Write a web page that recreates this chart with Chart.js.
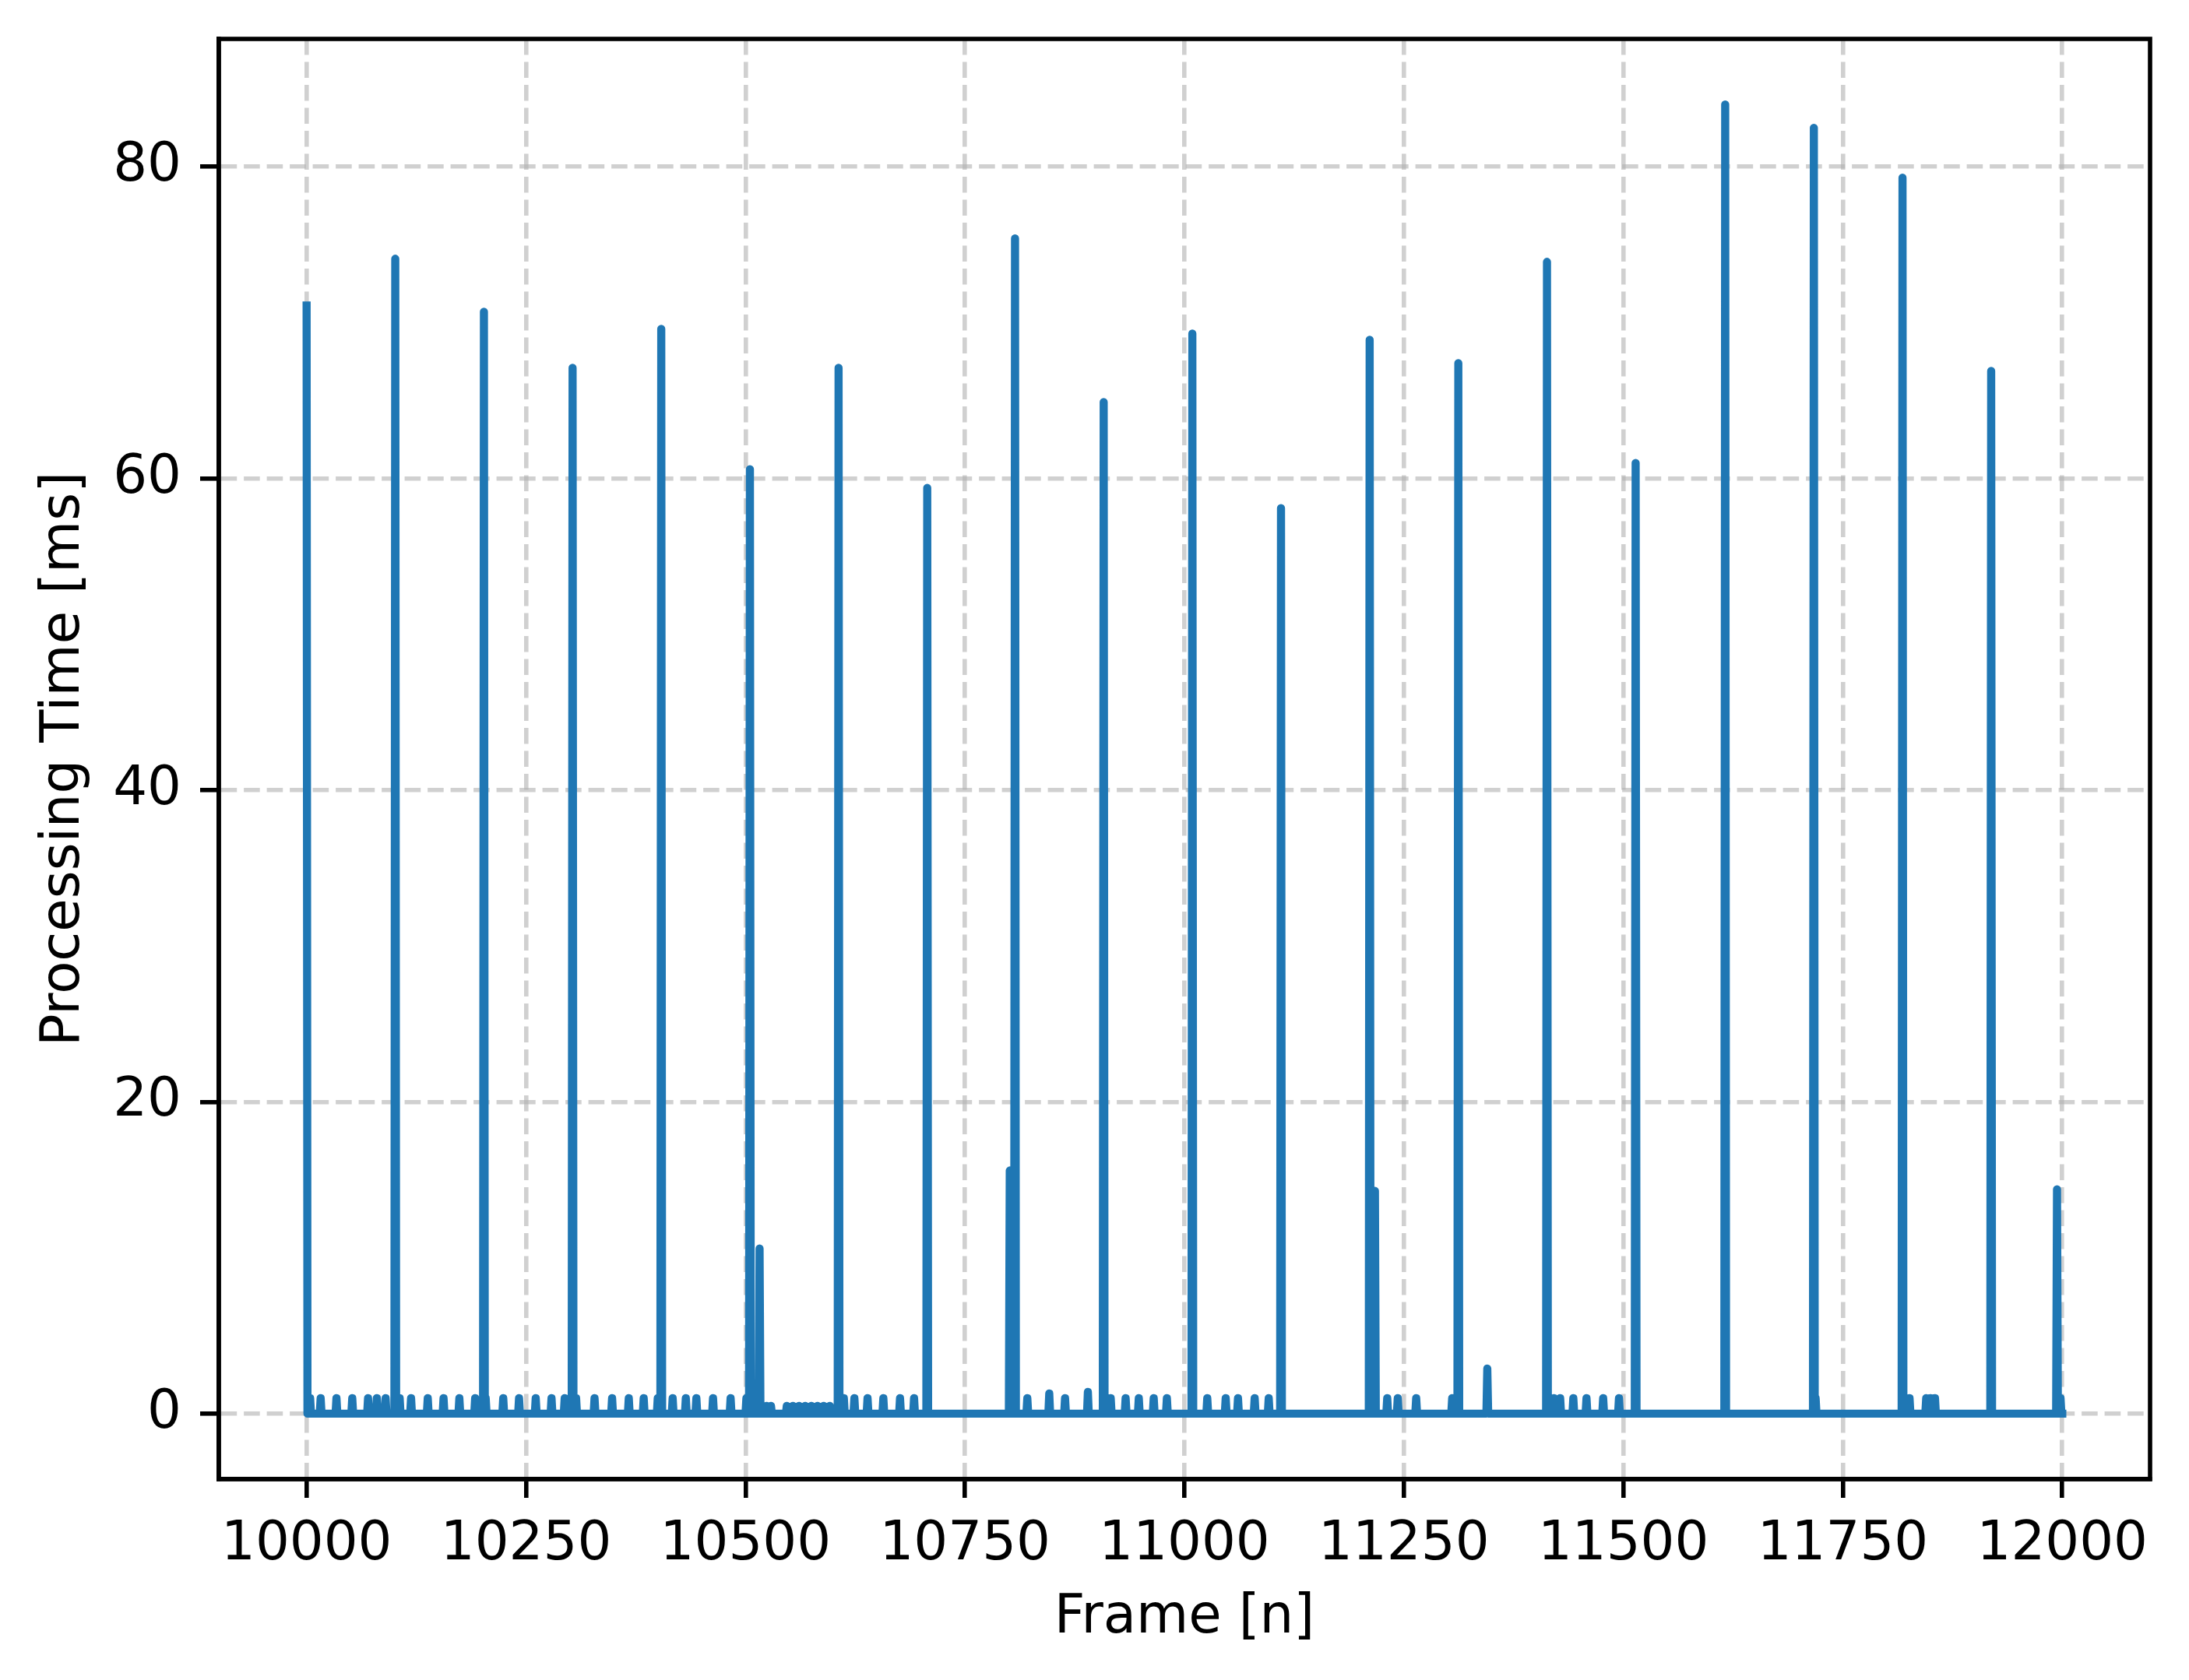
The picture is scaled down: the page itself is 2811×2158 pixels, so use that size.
<!DOCTYPE html>
<html>
<head>
<meta charset="utf-8">
<title>Processing time per frame</title>
<script src="https://cdn.jsdelivr.net/npm/chart.js@4.4.0/dist/chart.umd.min.js"></script>
<style>
    html, body { margin: 0; padding: 0; background: #ffffff; }
    #canvas-frame-time { display: block; }
</style>
</head>
<body>
<canvas id="canvas-frame-time" width="2811" height="2158"></canvas>
<script>
// Data
const frameStart = 10000;
const frameEnd = 12000;

// big spikes (frame, ms)
const peakFrames = [10000, 10101, 10202, 10303, 10404, 10505, 10516, 10606, 10707, 10801,
    10807, 10908, 11009, 11110, 11211, 11217, 11312, 11345, 11413, 11514,
    11616, 11717, 11818, 11919, 11994];
const peakMs = [71.1, 74.1, 70.7, 67.1, 69.6, 60.6, 10.6, 67.1, 59.4, 15.6,
    75.4, 64.9, 69.3, 58.1, 68.9, 14.3, 67.4, 2.9, 73.9, 61.0,
    84.0, 82.5, 79.3, 66.9, 14.4];

// small bumps near the baseline (frame, ms)
const bumpFrames = [10004, 10016, 10034, 10052, 10070, 10080, 10090, 10106, 10119, 10138,
    10156, 10174, 10192, 10204, 10224, 10242, 10261, 10279, 10294, 10307,
    10328, 10348, 10367, 10384, 10400, 10417, 10432, 10444, 10463, 10483,
    10501, 10524, 10529, 10547, 10554, 10561, 10568, 10575, 10582, 10589,
    10596, 10612, 10624, 10639, 10657, 10676, 10692, 10821, 10846, 10864,
    10890, 10916, 10933, 10948, 10965, 10980, 11026, 11047, 11061, 11080,
    11096, 11231, 11243, 11264, 11305, 11421, 11428, 11443, 11458, 11477,
    11495, 11719, 11826, 11845, 11850, 11855, 11998];
const bumpMs = [1.0, 1.0, 1.0, 1.0, 1.0, 1.0, 1.0, 1.0, 1.0, 1.0,
    1.0, 1.0, 1.0, 1.0, 1.0, 1.0, 1.0, 1.0, 1.0, 1.0,
    1.0, 1.0, 1.0, 1.0, 1.0, 1.0, 1.0, 1.0, 1.0, 1.0,
    1.0, 0.5, 0.5, 0.5, 0.5, 0.5, 0.5, 0.5, 0.5, 0.5,
    0.5, 1.0, 1.0, 1.0, 1.0, 1.0, 1.0, 1.0, 1.3, 1.0,
    1.4, 1.0, 1.0, 1.0, 1.0, 1.0, 1.0, 1.0, 1.0, 1.0,
    1.0, 1.0, 1.0, 1.0, 1.0, 1.0, 1.0, 1.0, 1.0, 1.0,
    1.0, 1.0, 1.0, 1.0, 1.0, 1.0, 1.0];

const xTickValues = [10000, 10250, 10500, 10750, 11000, 11250, 11500, 11750, 12000];
const yTickValues = [0, 20, 40, 60, 80];

// every other frame sits at 0 ms
const msByFrame = new Map();
peakFrames.forEach((f, i) => msByFrame.set(f, peakMs[i]));
bumpFrames.forEach((f, i) => msByFrame.set(f, bumpMs[i]));
const points = [];
for (let f = frameStart; f <= frameEnd; f++) {
    points.push({ x: f, y: msByFrame.has(f) ? msByFrame.get(f) : 0 });
}

const fontMain = { family: "'DejaVu Sans', sans-serif", size: 69 };
const gridColor = 'rgba(176, 176, 176, 0.6)';

// full frame round the plot, drawn over the data like matplotlib spines
const frameBox = {
    id: 'frameBox',
    afterDraw(chart) {
        const { ctx, chartArea: a } = chart;
        ctx.save();
        ctx.strokeStyle = '#000000';
        ctx.lineWidth = 5.6;
        ctx.lineCap = 'square';
        ctx.strokeRect(a.left, a.top, a.right - a.left, a.bottom - a.top);
        ctx.restore();
    }
};

const axisGrid = {
    color: gridColor,
    lineWidth: 5.6,
    tickColor: '#000000',
    tickLength: 24,
    tickWidth: 5.6,
};
const axisBorder = { color: '#000000', width: 5.6, dash: [20.6, 8.9] };

const chartConfig = {
    type: 'line',
    data: {
        datasets: [
            {
                data: points,
                borderColor: '#1f77b4',
                borderWidth: 10.4,
                pointRadius: 0,
                tension: 0,
                fill: false,
                borderJoinStyle: 'round',
                borderCapStyle: 'square',
            }
        ]
    },
    options: {
        responsive: false,
        animation: false,
        devicePixelRatio: 1,
        layout: {
            padding: { top: 50, right: 50, bottom: 0, left: 0 }
        },
        scales: {
            x: {
                type: 'linear',
                min: 9900,
                max: 12100,
                afterBuildTicks: (scale) => { scale.ticks = xTickValues.map(v => ({ value: v })); },
                afterFit: (scale) => {
                    scale.height = 258;
                    scale.paddingLeft = 0;
                    scale.paddingRight = 0;
                },
                grid: axisGrid,
                border: axisBorder,
                ticks: {
                    color: '#000000',
                    font: fontMain,
                    padding: 20,
                    maxRotation: 0,
                    autoSkip: false,
                    callback: (v) => String(v),
                },
                title: {
                    display: true,
                    text: 'Frame [n]',
                    color: '#000000',
                    font: fontMain,
                    padding: { top: 0, bottom: 38 },
                },
            },
            y: {
                type: 'linear',
                min: -4.2,
                max: 88.2,
                afterBuildTicks: (scale) => { scale.ticks = yTickValues.map(v => ({ value: v })); },
                afterFit: (scale) => {
                    scale.width = 281;
                    scale.paddingTop = 0;
                    scale.paddingBottom = 0;
                },
                grid: axisGrid,
                border: axisBorder,
                ticks: {
                    color: '#000000',
                    font: fontMain,
                    padding: 24,
                    callback: (v) => String(v),
                },
                title: {
                    display: true,
                    text: 'Processing Time [ms]',
                    color: '#000000',
                    font: fontMain,
                    padding: { top: 42, bottom: 0 },
                },
            }
        },
        plugins: {
            legend: { display: false },
            tooltip: { enabled: false },
        }
    },
    plugins: [frameBox],
};

const frameChart = new Chart(document.getElementById('canvas-frame-time').getContext('2d'), chartConfig);
</script>
</body>
</html>
